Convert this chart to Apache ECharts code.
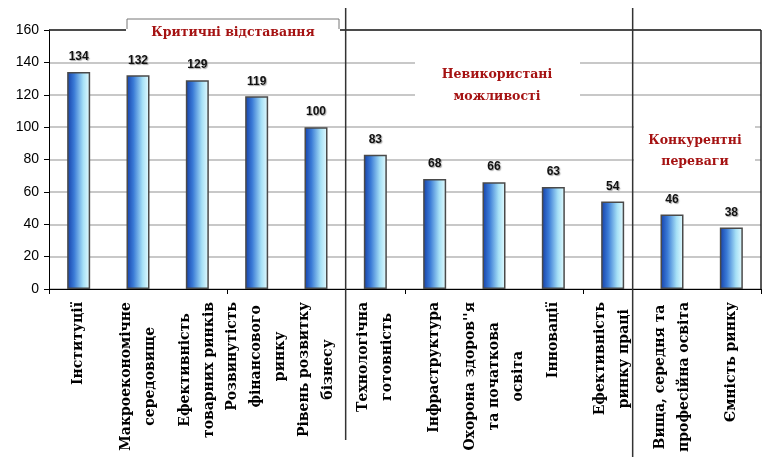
<!DOCTYPE html>
<html>
<head>
<meta charset="utf-8">
<script src="https://cdn.jsdelivr.net/npm/echarts@6/dist/echarts.min.js"></script>
<style>
html,body{margin:0;padding:0;background:#fff;}
#c{width:762px;height:457px;}
</style>
</head>
<body>
<div id="c"></div>
<script>
var categories = [
  'Інституції',
  'Макроекономічне\nсередовище',
  'Ефективність\nтоварних ринків',
  'Розвинутість\nфінансового\nринку',
  'Рівень розвитку\nбізнесу',
  'Технологічна\nготовність',
  'Інфраструктура',
  "Охорона здоров''я\nта початкова\nосвіта",
  'Інновації',
  'Ефективність\nринку праці',
  'Вища, середня та\nпрофесійна освіта',
  'Ємність ринку'
];
var values = [134, 132, 129, 119, 100, 83, 68, 66, 63, 54, 46, 38];
var yTicks = [0, 20, 40, 60, 80, 100, 120, 140, 160];
var groupTitles = ['Критичні відставання', 'Невикористані\nможливості', 'Конкурентні\nпереваги'];

var chart = echarts.init(document.getElementById('c'));
var red = '#a51212';
var serif = '"DejaVu Serif", "Liberation Serif", serif';
var labelFont = 'bold 14px ' + serif;
var titleFont = 'bold 12.5px ' + serif;

var option = {
  animation: false,
  backgroundColor: '#ffffff',
  grid: { left: 49, right: 1, top: 30, bottom: 168, containLabel: false },
  xAxis: {
    type: 'category',
    data: categories,
    axisLine: { lineStyle: { color: '#000', width: 1 } },
    axisTick: { show: true, length: 5, lineStyle: { color: '#000' } },
    axisLabel: { show: false }
  },
  yAxis: {
    type: 'value',
    min: yTicks[0],
    max: yTicks[yTicks.length - 1],
    interval: yTicks[1] - yTicks[0],
    axisLine: { show: true, lineStyle: { color: '#000', width: 1 } },
    axisTick: { show: true, length: 5, lineStyle: { color: '#000' } },
    axisLabel: { color: '#000', fontFamily: '"Liberation Sans", Arial, sans-serif', fontSize: 14, margin: 10 },
    splitLine: { show: true, lineStyle: { color: '#c8c8c8', width: 2 } }
  },
  series: [{
    type: 'bar',
    data: values,
    barWidth: 23,
    z: 3,
    itemStyle: {
      color: new echarts.graphic.LinearGradient(0, 0, 1, 0, [
        { offset: 0, color: '#143fa8' },
        { offset: 0.3, color: '#3a7ad6' },
        { offset: 0.7, color: '#a6e0f6' },
        { offset: 1, color: '#e6fcff' }
      ]),
      borderColor: '#4a4a4a',
      borderWidth: 1.5
    },
    label: {
      show: true,
      position: 'top',
      distance: 9,
      color: '#111',
      fontFamily: '"Liberation Sans", Arial, sans-serif',
      fontWeight: 'bold',
      fontSize: 12,
      textShadowColor: 'rgba(0,0,0,0.35)',
      textShadowBlur: 1,
      textShadowOffsetX: 1,
      textShadowOffsetY: 1
    }
  }]
};
chart.setOption(option);

// measure text widths for the rotated category labels
var cv = document.createElement('canvas').getContext('2d');
cv.font = labelFont;
function blockWidth(s) {
  return Math.max.apply(null, s.split('\n').map(function (l) { return cv.measureText(l).width; }));
}

var axisY = chart.convertToPixel({ yAxisIndex: 0 }, 0);
var gTop = chart.convertToPixel({ yAxisIndex: 0 }, 160);
var graphics = [];

categories.forEach(function (c, i) {
  var cx = chart.convertToPixel({ xAxisIndex: 0 }, i);
  var w = blockWidth(c);
  graphics.push({
    type: 'text', z: 10,
    x: cx, y: axisY + 13 + w / 2, rotation: Math.PI / 2,
    style: { x: 0, y: 0, text: c, fill: '#000', font: labelFont, lineHeight: 24, align: 'center', verticalAlign: 'middle' }
  });
});

var x5 = (chart.convertToPixel({ xAxisIndex: 0 }, 4) + chart.convertToPixel({ xAxisIndex: 0 }, 5)) / 2;
var x10 = chart.convertToPixel({ xAxisIndex: 0 }, 9) + 20;

graphics = graphics.concat([
  // white boxes behind titles
  { type: 'rect', z: 1, shape: { x: 415, y: 55, width: 165, height: 48 }, style: { fill: '#fff' } },
  { type: 'rect', z: 1, shape: { x: 634, y: 112, width: 121, height: 70 }, style: { fill: '#fff' } },
  // plot top border and right border
  { type: 'line', z: 5, shape: { x1: 49, y1: gTop, x2: 761, y2: gTop }, style: { stroke: '#222', lineWidth: 1.5 } },
  { type: 'line', z: 5, shape: { x1: 761, y1: gTop, x2: 761, y2: axisY }, style: { stroke: '#222', lineWidth: 1.5 } },
  // tab for first group title
  { type: 'rect', z: 6, shape: { x: 127, y: 19, width: 212, height: 15 }, style: { fill: '#fff', stroke: '#777', lineWidth: 1 } },
  { type: 'rect', z: 7, shape: { x: 126, y: 29, width: 214, height: 8 }, style: { fill: '#fff' } },
  { type: 'text', z: 8, style: { x: 233, y: 33, text: groupTitles[0], fill: red, font: titleFont, align: 'center', verticalAlign: 'middle' } },
  // dividers
  { type: 'line', z: 9, shape: { x1: x5, y1: 8, x2: x5, y2: 440 }, style: { stroke: '#333', lineWidth: 1.5 } },
  { type: 'line', z: 9, shape: { x1: x10, y1: 8, x2: x10, y2: 460 }, style: { stroke: '#333', lineWidth: 1.5 } },
  // titles
  { type: 'text', z: 8, style: { x: 497, y: 86, text: groupTitles[1], fill: red, font: titleFont, lineHeight: 22, align: 'center', verticalAlign: 'middle' } },
  { type: 'text', z: 8, style: { x: 695, y: 151, text: groupTitles[2], fill: red, font: titleFont, lineHeight: 21, align: 'center', verticalAlign: 'middle' } }
]);

chart.setOption({ graphic: graphics });
</script>
</body>
</html>
